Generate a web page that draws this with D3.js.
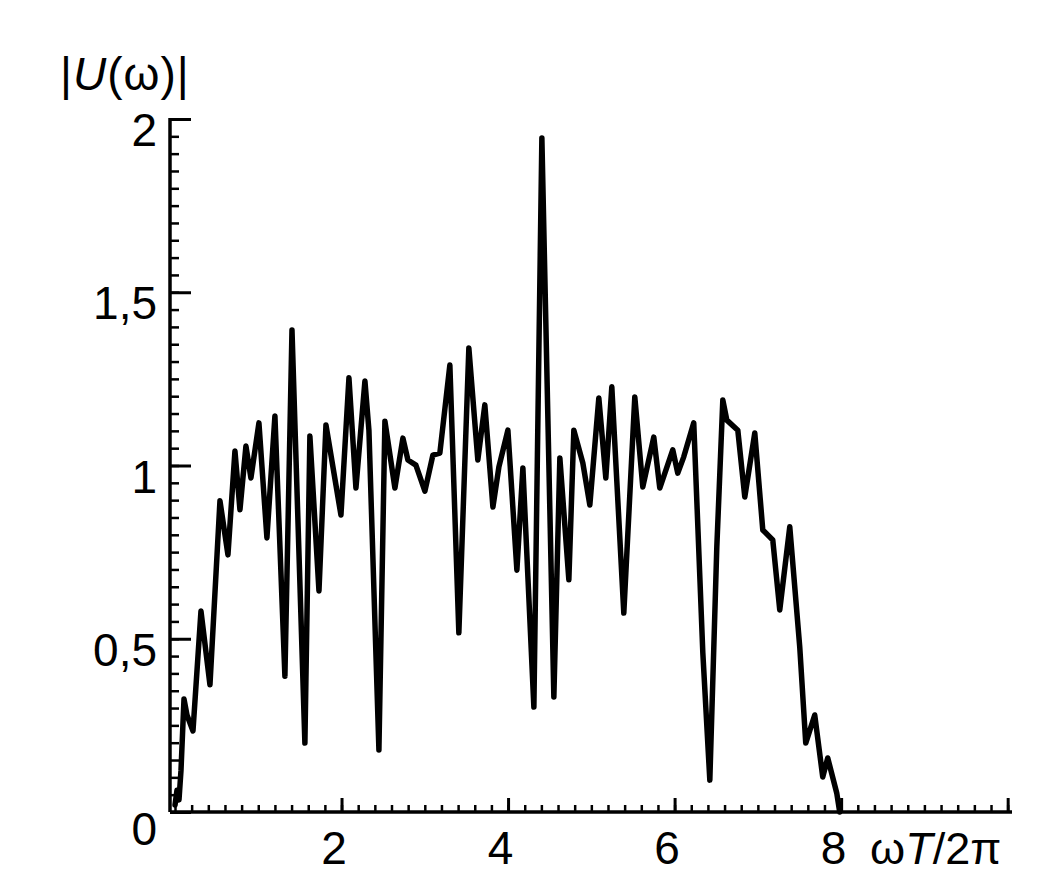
<!DOCTYPE html>
<html>
<head>
<meta charset="utf-8">
<script src="https://cdn.jsdelivr.net/npm/d3@7"></script>
<style>
  html, body { margin: 0; padding: 0; background: #fff; }
  svg { display: block; }
  text { font-family: "Liberation Sans", Arial, sans-serif; fill: #000; }
</style>
</head>
<body>
<svg id="chart" width="1058" height="885"></svg>
<script>
// ---- data ----
const freq = [0.00,0.024,0.048,0.072,0.108,0.144,0.216,0.312,0.42,0.54,0.636,0.72,0.78,0.852,0.912,1.008,1.104,1.20,1.32,1.405,1.56,1.62,1.729,1.813,1.993,2.089,2.173,2.281,2.329,2.449,2.521,2.641,2.737,2.797,2.893,3.001,3.097,3.181,3.301,3.409,3.529,3.637,3.721,3.818,3.890,3.998,4.106,4.178,4.310,4.406,4.550,4.622,4.730,4.790,4.898,4.982,5.090,5.174,5.246,5.390,5.522,5.618,5.750,5.822,5.978,6.038,6.110,6.230,6.339,6.423,6.507,6.579,6.627,6.759,6.843,6.963,7.059,7.179,7.263,7.383,7.503,7.575,7.683,7.779,7.839,7.947,7.983];
const amplitude = [0.02,0.063,0.035,0.12,0.326,0.28,0.234,0.58,0.367,0.898,0.742,1.042,0.872,1.056,0.964,1.123,0.791,1.143,0.392,1.391,0.199,1.085,0.638,1.117,0.857,1.253,0.935,1.244,1.102,0.179,1.128,0.935,1.079,1.016,1.001,0.926,1.030,1.036,1.29,0.517,1.339,1.016,1.175,0.880,0.996,1.102,0.698,0.993,0.303,1.945,0.332,1.022,0.670,1.102,1.007,0.886,1.195,0.964,1.227,0.574,1.198,0.938,1.082,0.935,1.045,0.978,1.025,1.123,0.459,0.092,0.765,1.189,1.131,1.102,0.909,1.094,0.814,0.785,0.583,0.823,0.476,0.199,0.280,0.101,0.156,0.055,0.0];
const xMajorTicks = [2, 4, 6, 8, 10];
const yMajorTicks = [0, 0.5, 1, 1.5, 2];
const xTitleParts = ["ω", "T", "/2π"];
const yTitleParts = ["|", "U", "(ω)|"];

// ---- layout ----
const svg = d3.select("#chart");
const x = d3.scaleLinear().domain([-0.06, 10.04]).range([170, 1011]);
const y = d3.scaleLinear().domain([0, 2]).range([812, 119]);

const xMinor = d3.range(0, 50.5, 1).map(i => +(i * 0.2).toFixed(2));
const yMinor = d3.range(0, 40.5, 1).map(i => +(i * 0.05).toFixed(3));

// x axis minor ticks (inward, upward)
const gxMinor = svg.append("g").attr("transform", "translate(0,812)")
  .call(d3.axisBottom(x).tickValues(xMinor).tickSize(-7).tickFormat(""));
gxMinor.select(".domain").remove();
gxMinor.selectAll("line").attr("stroke", "#000").attr("stroke-width", 2.5);

// x axis majors + labels
const gx = svg.append("g").attr("transform", "translate(0,812)")
  .call(d3.axisBottom(x).tickValues(xMajorTicks).tickSize(-14).tickSizeOuter(0).tickPadding(19)
    .tickFormat(d => d === 10 ? "" : d));
gx.select(".domain").attr("stroke", "#000").attr("stroke-width", 3.5).attr("d", `M170,0H1012`);
gx.selectAll("line").attr("stroke", "#000").attr("stroke-width", 3);
gx.selectAll("text").attr("font-size", 46).attr("dx", -8).attr("fill", "#000");

// y axis minor ticks (inward, rightward)
const gyMinor = svg.append("g").attr("transform", "translate(170,0)")
  .call(d3.axisLeft(y).tickValues(yMinor).tickSize(-9).tickFormat(""));
gyMinor.select(".domain").remove();
gyMinor.selectAll("line").attr("stroke", "#000").attr("stroke-width", 2.5);

// y axis majors + labels
const gy = svg.append("g").attr("transform", "translate(170,0)")
  .call(d3.axisLeft(y).tickValues(yMajorTicks).tickSize(-21).tickSizeOuter(0).tickPadding(13)
    .tickFormat(d => String(d).replace(".", ",")));
gy.select(".domain").attr("stroke", "#000").attr("stroke-width", 3.5).attr("d", `M0,812V118`);
gy.selectAll("line").attr("stroke", "#000").attr("stroke-width", 3);
gy.selectAll("text").attr("font-size", 46).attr("transform", "translate(0,12)").attr("fill", "#000");
gy.selectAll(".tick text").filter(d => d === 0).attr("transform", "translate(0,18)");

// data line
const pts = freq.map((f, i) => [f, amplitude[i]]);
svg.append("path")
  .datum(pts)
  .attr("fill", "none")
  .attr("stroke", "#000")
  .attr("stroke-width", 5.5)
  .attr("stroke-linejoin", "round")
  .attr("stroke-linecap", "round")
  .attr("d", d3.line().x(d => x(d[0])).y(d => y(d[1])));

// axis titles
const xt = svg.append("text").attr("x", 870).attr("y", 864).attr("font-size", 45);
xTitleParts.forEach((p, i) => xt.append("tspan").text(p).attr("font-style", i === 1 ? "italic" : "normal"));

const yt = svg.append("text").attr("x", 60).attr("y", 90).attr("font-size", 46).attr("letter-spacing", 1);
yTitleParts.forEach((p, i) => yt.append("tspan").text(p).attr("font-style", i === 1 ? "italic" : "normal"));
</script>
</body>
</html>
